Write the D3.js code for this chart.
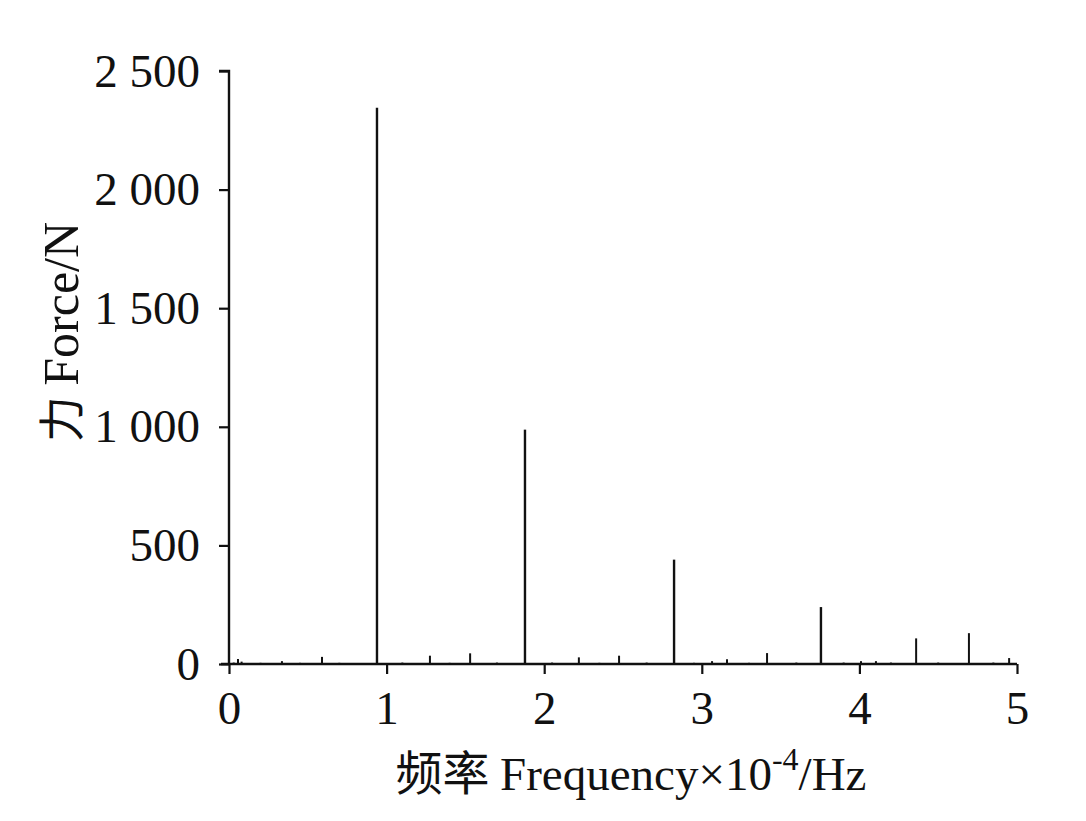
<!DOCTYPE html>
<html><head><meta charset="utf-8">
<script src="https://cdn.jsdelivr.net/npm/d3@7/dist/d3.min.js"></script>
<style>body{margin:0;background:#fff}svg{display:block}</style>
</head><body>
<svg id="c" width="1086" height="821"></svg>
<script>
// Spectrum peaks: frequency (×10^-4 Hz) and force (N)
const freqs = [0.03,0.057,0.08,0.2,0.336,0.45,0.59,0.7,0.939,1.1,1.275,1.4,1.53,1.7,1.878,2.05,2.22,2.35,2.475,2.65,2.824,2.95,3.065,3.16,3.3,3.414,3.6,3.756,3.9,4.01,4.105,4.2,4.36,4.5,4.695,4.85,4.95];
const forces = [6,21,10,5,12,5,30,5,2345,6,35,5,45,6,988,6,28,5,35,6,440,5,12,20,5,46,6,240,6,12,12,6,108,6,130,6,25];
const xTicks = [0,1,2,3,4,5];
const yTicks = [0,500,1000,1500,2000,2500];
const yTickLabels = ["0","500","1 000","1 500","2 000","2 500"];

const svg = d3.select("#c");
const x = d3.scaleLinear().domain([0,5]).range([229,1017]);
const y = d3.scaleLinear().domain([0,2500]).range([664,71]);
const serif = "'Liberation Serif','Times New Roman',serif";

// spikes
svg.append("g").selectAll("line").data(freqs).join("line")
  .attr("x1",d=>x(d)).attr("x2",d=>x(d))
  .attr("y1",y(0)).attr("y2",(d,i)=>y(forces[i]))
  .attr("stroke","#111").attr("stroke-width",(d,i)=>forces[i]>200?2.4:2);

// axes
const xa = svg.append("g").attr("transform",`translate(0,${y(0)})`)
  .call(d3.axisBottom(x).tickValues(xTicks).tickFormat(d3.format("d")).tickSize(10).tickPadding(17));
const ya = svg.append("g").attr("transform",`translate(${x(0)},0)`)
  .call(d3.axisLeft(y).tickValues(yTicks).tickFormat((d,i)=>yTickLabels[i]).tickSize(10).tickPadding(19));
[xa,ya].forEach(a=>{
  a.select(".domain").attr("stroke","#111").attr("stroke-width",2.4);
  a.selectAll(".tick line").attr("stroke","#111").attr("stroke-width",2.2);
  a.selectAll("text").attr("fill","#111").style("font-family",serif).style("font-size","47px");
});
ya.select(".domain").attr("d",`M-10,${y(2500)}H0V${y(0)}`);
xa.select(".domain").attr("d",`M${x(0)-8},0H${x(5)}`);

// titles
const xt = svg.append("text").attr("x",631).attr("y",790).attr("text-anchor","middle")
  .attr("fill","#111").style("font-family",serif).style("font-size","47px");
xt.append("tspan").style("font-family","'Noto Sans CJK SC'").text("频率 ");
xt.append("tspan").text("Frequency×10");
xt.append("tspan").attr("dy",-20).style("font-size","32px").text("-4");
xt.append("tspan").attr("dy",20).text("/Hz");

const yt = svg.append("text").attr("transform","translate(78,332) rotate(-90)").attr("text-anchor","middle")
  .attr("fill","#111").style("font-family",serif).style("font-size","50px");
yt.append("tspan").style("font-family","'Noto Sans CJK SC'").style("font-size","46px").text("力 ");
yt.append("tspan").text("Force/N");
</script>
</body></html>
